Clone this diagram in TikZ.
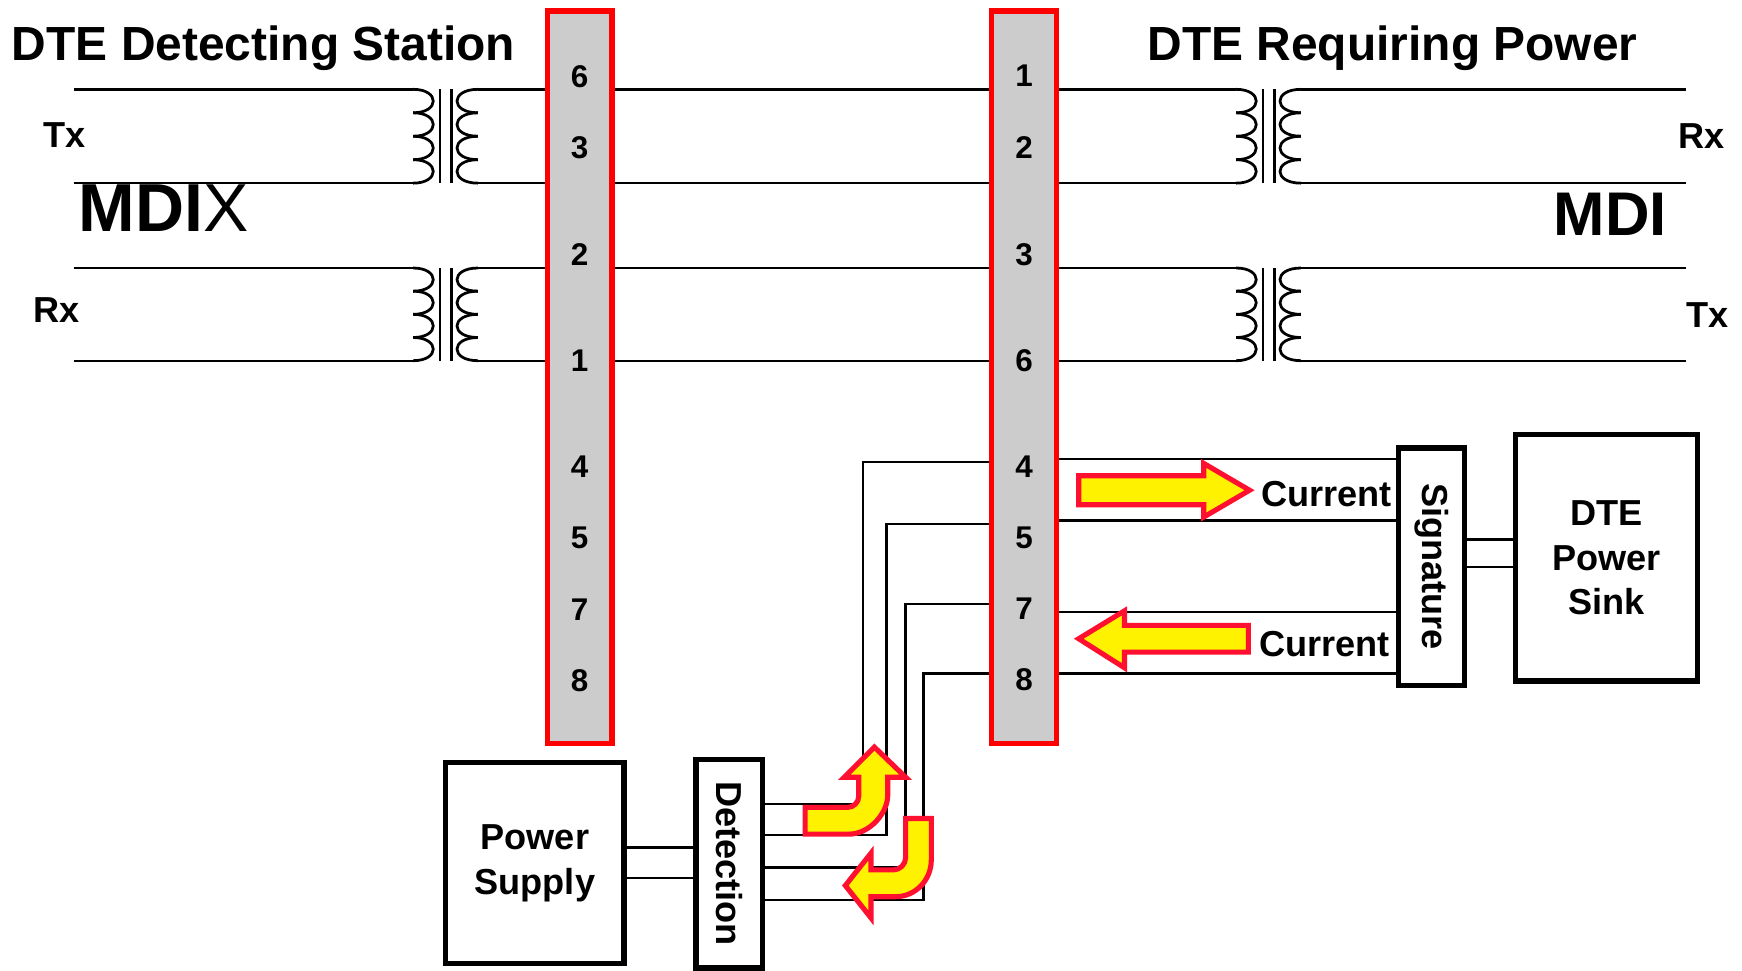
\documentclass[tikz,border=0pt]{standalone}
\usepackage{fontspec}
\setmainfont{Liberation Sans}
\usepackage{tikz}
\usetikzlibrary{arrows}
\definecolor{pingray}{RGB}{204,204,204}
\definecolor{flowred}{RGB}{255,16,48}
\newcommand{\txtfont}{\fontsize{9.2}{11.3}\selectfont\bfseries}
\newcommand{\pinfont}{\fontsize{8}{9}\selectfont\bfseries}
\newcommand{\headfont}{\fontsize{12.2}{14}\selectfont\bfseries}
\newcommand{\mdixfont}{\fontsize{17.3}{20}\selectfont\bfseries}
\newcommand{\mdifont}{\fontsize{15.7}{18}\selectfont\bfseries}

\begin{document}
\begin{tikzpicture}[x=0.01cm,y=-0.01cm,
    wire/.style={line width=0.6pt},
    coil/.style={line width=0.7pt},
    bar/.style={rectangle,draw=red,fill=pingray,line width=1.3pt,inner sep=0pt,minimum width=0.58cm,minimum height=6.56cm},
    blk/.style={rectangle,draw,line width=1.3pt,inner sep=0pt,align=center,font=\txtfont},
    pin/.style={inner sep=0pt,font=\pinfont},
    flow/.style={draw=flowred,fill=yellow,line width=1.3pt,line join=miter}]
\useasboundingbox (0,0) rectangle (1560,869);

\node (dtes) at (10,54) [anchor=base west,inner sep=0pt,font=\headfont] {DTE Detecting Station};
\node (dtep) at (1027,54) [anchor=base west,inner sep=0pt,font=\headfont] {DTE Requiring Power};
\node (mdix) at (70,207.5) [anchor=base west,inner sep=0pt,font=\mdixfont] {MDI\mdseries X};
\node (mdi) at (1442,192) [inner sep=0pt,font=\mdifont] {MDI};
\node (txl) at (58,121) [inner sep=0pt,font=\txtfont] {Tx};
\node (rxl) at (51,278) [inner sep=0pt,font=\txtfont] {Rx};
\node (rxr) at (1524,122) [inner sep=0pt,font=\txtfont] {Rx};
\node (txr) at (1529,282) [inner sep=0pt,font=\txtfont] {Tx};

\node (lbar) at (519,338) [bar] {};
\node (rbar) at (917,338) [bar] {};
\foreach \nm/\y in {6/69,3/132,2/228,1/323,4/418,5/482,7/546,8/610}
    \node (l\nm) at (519,\y) [pin] {\nm};
\foreach \nm/\y in {1/68,2/132,3/228,6/323,4/418,5/482,7/545,8/609}
    \node (r\nm) at (917,\y) [pin] {\nm};

\node (ps) at (479,773) [blk,minimum width=1.595cm,minimum height=1.795cm] {Power\\Supply};
\node (det) at (653,773.5) [blk,minimum width=0.595cm,minimum height=1.865cm] {\rotatebox{-90}{Detection}};
\node (sig) at (1282,507.5) [blk,minimum width=0.595cm,minimum height=2.125cm] {\rotatebox{-90}{Signature}};
\node (sink) at (1438.5,499.5) [blk,minimum width=1.625cm,minimum height=2.205cm] {DTE\\Power\\Sink};

\foreach \cx/\ya/\yb/\nm in {370/80/164/lt,370/240/323/lb,1107/80/164/rt,1107/240/323/rb} {
    \pgfmathsetmacro{\hq}{(\yb-\ya)/4}
    \coordinate (\nm a) at (\cx,\ya);
    \coordinate (\nm b) at (\cx,\yb);
    \coordinate (\nm c) at (\cx+58,\ya);
    \coordinate (\nm d) at (\cx+58,\yb);
    \foreach \k in {0,...,3} {
        \draw [coil] (\cx,\ya+\k*\hq) .. controls (\cx+24,\ya+\k*\hq) and (\cx+24,\ya+\k*\hq+\hq) .. (\cx,\ya+\k*\hq+\hq);
        \draw [coil] (\cx+58,\ya+\k*\hq) .. controls (\cx+33,\ya+\k*\hq) and (\cx+33,\ya+\k*\hq+\hq) .. (\cx+58,\ya+\k*\hq+\hq);
    }
    \draw [coil] (\cx+24,\ya) -- (\cx+24,\yb);
    \draw [coil] (\cx+34,\ya) -- (\cx+34,\yb);
}

\foreach \p/\q in {ta/tc,tb/td,ba/bc,bb/bd} {
    \draw [wire] (l\p) ++(-304,0) -- (l\p);
    \draw [wire] (l\q) -- (lbar.west |- l\q);
    \draw [wire] (lbar.east |- l\q) -- (rbar.west |- l\q);
    \draw [wire] (rbar.east |- r\p) -- (r\p);
    \draw [wire] (r\q) -- ++(345,0);
}

\foreach \ya/\xv/\yb in {414/773/720,469/794/748,541/811/777,603/827/806}
    \draw [wire] (rbar.west |- 0,\ya) -| (\xv,\yb) -- (det.east |- 0,\yb);
\foreach \y in {411,466,548,603}
    \draw [wire] (rbar.east |- 0,\y) -- (sig.west |- 0,\y);
\foreach \y in {759,786}
    \draw [wire] (ps.east |- 0,\y) -- (det.west |- 0,\y);
\foreach \y in {483,508}
    \draw [wire] (sig.east |- 0,\y) -- (sink.west |- 0,\y);

\node (cur1) at (1129,454) [anchor=base west,inner sep=0pt,font=\txtfont] {Current};
\node (cur2) at (1127,588) [anchor=base west,inner sep=0pt,font=\txtfont] {Current};

\draw [flow] (966,426) -- (1078,426) -- (1078,415) -- (1119,439) -- (1078,463) -- (1078,452) -- (966,452) -- cycle;
\draw [flow] (1118,560) -- (1007,560) -- (1007,547) -- (966,572) -- (1007,598) -- (1007,584) -- (1118,584) -- cycle;
\draw [flow] (721,747) -- (760,747) .. controls (779,747) and (795,728) .. (795,712) -- (795,696) -- (811,696)
    -- (783,669) -- (756,696) -- (769,696) -- (769,713) .. controls (769,718.5) and (764.5,723) .. (759,723) -- (721,723) -- cycle;
\draw [flow] (834,733) -- (834,770) .. controls (834,788) and (820,803) .. (802,803) -- (780,803) -- (780,822)
    -- (757,793) -- (780,764) -- (780,779) -- (800,779) .. controls (806,779) and (811,774) .. (811,768) -- (811,733) -- cycle;
\end{tikzpicture}
\end{document}
